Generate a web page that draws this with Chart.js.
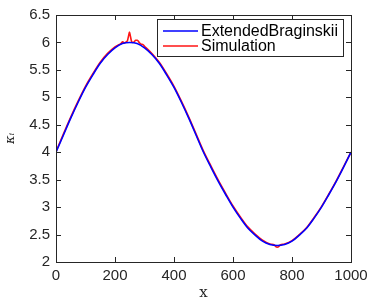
<!DOCTYPE html>
<html>
<head>
<meta charset="utf-8">
<script src="https://cdn.jsdelivr.net/npm/chart.js@4/dist/chart.umd.min.js"></script>
<style>
  html, body { margin: 0; padding: 0; background: #fff; }
  #wrap { width: 374px; height: 301px; }
</style>
</head>
<body>
<div id="wrap"><canvas id="myChart"></canvas></div>
<script>
// theory curve (ExtendedBraginskii)
const theoryX = [0, 25, 50, 75, 100, 125, 150, 175, 200, 225, 250, 275, 300, 325, 350, 375, 400, 425, 450, 475,
  500, 525, 550, 575, 600, 625, 650, 675, 700, 725, 750, 775, 800, 825, 850, 875, 900, 925, 950, 975, 1000];
const theoryY = [4.00, 4.31, 4.62, 4.91, 5.18, 5.41, 5.62, 5.78, 5.90, 5.98, 6.00, 5.98, 5.90, 5.78, 5.62, 5.41, 5.18, 4.91, 4.62, 4.31,
  4.00, 3.73, 3.47, 3.23, 3.00, 2.80, 2.62, 2.49, 2.38, 2.32, 2.30, 2.32, 2.38, 2.49, 2.62, 2.80, 3.00, 3.23, 3.47, 3.73, 4.00];

// simulation curve (noisy near the peak and the trough)
const simX = [0, 25, 50, 75, 100, 125, 150, 175, 200, 210, 220, 226, 232, 238, 242, 246, 249, 252, 256, 260,
  265, 270, 276, 282, 288, 295, 300, 310, 325, 350, 375, 400, 425, 450, 475, 500, 525, 550, 575, 600,
  625, 650, 675, 700, 725, 740, 745, 750, 755, 760, 775, 800, 825, 850, 875, 900, 925, 950, 975, 1000];
const simY = [4.01, 4.33, 4.64, 4.93, 5.20, 5.43, 5.64, 5.80, 5.92, 5.95, 5.98, 6.01, 5.99, 6.01, 6.03, 6.12, 6.19, 6.12, 6.02, 6.00,
  6.01, 6.04, 6.04, 6.00, 5.97, 5.96, 5.93, 5.88, 5.80, 5.64, 5.43, 5.20, 4.93, 4.64, 4.33, 4.02, 3.75, 3.49, 3.25, 3.02,
  2.82, 2.64, 2.51, 2.40, 2.33, 2.31, 2.28, 2.27, 2.28, 2.31, 2.33, 2.39, 2.50, 2.63, 2.81, 3.01, 3.24, 3.48, 3.74, 4.00];

const seriesLabels = ['ExtendedBraginskii', 'Simulation'];
const xTicks = [0, 200, 400, 600, 800, 1000];
const yTicks = [2, 2.5, 3, 3.5, 4, 4.5, 5, 5.5, 6, 6.5];

const axisColor = '#262626';
const tickFont = { family: '"Liberation Sans", Arial, sans-serif', size: 15 };
const legendFont = '16px "Liberation Sans", Arial, sans-serif';

function toPoints(xs, ys) {
  return xs.map((x, i) => ({ x: x, y: ys[i] }));
}

// box round the plot area, ticks pointing inward, and the boxed legend
const boxPlugin = {
  id: 'boxPlugin',
  afterDatasetsDraw(chart) {
    const c = chart.ctx;
    const a = chart.chartArea;
    const xs = chart.scales.x, ys = chart.scales.y;
    const len = 5;
    c.save();
    c.strokeStyle = axisColor;
    c.lineWidth = 1;
    c.beginPath();
    xTicks.forEach(v => {
      const px = Math.round(xs.getPixelForValue(v)) + 0.5;
      c.moveTo(px, a.bottom); c.lineTo(px, a.bottom - len);
      c.moveTo(px, a.top); c.lineTo(px, a.top + len);
    });
    yTicks.forEach(v => {
      const py = Math.round(ys.getPixelForValue(v)) + 0.5;
      c.moveTo(a.left, py); c.lineTo(a.left + len, py);
      c.moveTo(a.right, py); c.lineTo(a.right - len, py);
    });
    c.stroke();
    c.strokeRect(Math.round(a.left) + 0.5, Math.round(a.top) + 0.5,
      Math.round(a.right - a.left), Math.round(a.bottom - a.top));

    // legend
    c.font = legendFont;
    const sets = chart.data.datasets;
    const textW = Math.max(...sets.map(d => c.measureText(d.label).width));
    const boxR = Math.round(a.right) - 8;
    const boxT = Math.round(a.top) + 4;
    const boxL = Math.round(boxR - 5 - textW - 3 - 35 - 6);
    const rowH = 15;
    const boxB = boxT + 37;
    c.fillStyle = '#fff';
    c.fillRect(boxL, boxT, boxR - boxL, boxB - boxT);
    c.strokeStyle = axisColor;
    c.strokeRect(boxL + 0.5, boxT + 0.5, boxR - boxL, boxB - boxT);
    c.textBaseline = 'middle';
    c.textAlign = 'left';
    sets.forEach((d, i) => {
      const y = boxT + 12 + i * rowH;
      c.strokeStyle = d.borderColor;
      c.lineWidth = 1.6;
      c.beginPath();
      c.moveTo(boxL + 6, y); c.lineTo(boxL + 41, y);
      c.stroke();
      c.fillStyle = '#000';
      c.fillText(d.label, boxL + 44, y + 1);
    });
    c.restore();
  }
};

const ctx = document.getElementById('myChart').getContext('2d');
const chart = new Chart(ctx, {
  type: 'line',
  data: {
    datasets: [
      {
        label: seriesLabels[0],
        data: toPoints(theoryX, theoryY),
        borderColor: 'rgb(0,0,255)',
        borderWidth: 1.6,
        pointRadius: 0,
        cubicInterpolationMode: 'monotone',
        fill: false
      },
      {
        label: seriesLabels[1],
        data: toPoints(simX, simY),
        borderColor: 'rgb(255,20,20)',
        borderWidth: 1.6,
        pointRadius: 0,
        cubicInterpolationMode: 'monotone',
        fill: false
      }
    ]
  },
  options: {
    responsive: true,
    maintainAspectRatio: false,
    animation: false,
    layout: { padding: { top: 13, right: 23, bottom: 0, left: 0 } },
    scales: {
      x: {
        type: 'linear',
        min: 0,
        max: 1000,
        afterBuildTicks: s => { s.ticks = xTicks.map(v => ({ value: v })); },
        afterFit: s => { s.height = 39; },
        grid: { display: false, drawTicks: false },
        border: { display: false },
        ticks: { color: axisColor, font: tickFont, padding: 5, maxRotation: 0, callback: v => String(v) },
        title: {
          display: true,
          text: 'x',
          color: axisColor,
          font: { family: '"DejaVu Serif", "Liberation Serif", serif', size: 15, lineHeight: 1 },
          padding: { top: 0, bottom: 0 }
        }
      },
      y: {
        min: 2,
        max: 6.5,
        afterBuildTicks: s => { s.ticks = yTicks.map(v => ({ value: v })); },
        afterFit: s => { s.width = 56; },
        grid: { display: false, drawTicks: false },
        border: { display: false },
        ticks: { color: axisColor, font: tickFont, padding: 6, callback: v => String(v) },
        title: {
          display: true,
          text: 'κᵢ',
          color: axisColor,
          font: { family: '"DejaVu Serif", serif', size: 13, style: 'italic', lineHeight: 1 },
          padding: { top: 4, bottom: 0 }
        }
      }
    },
    plugins: {
      legend: { display: false },
      tooltip: { enabled: false }
    }
  },
  plugins: [boxPlugin]
});
</script>
</body>
</html>
